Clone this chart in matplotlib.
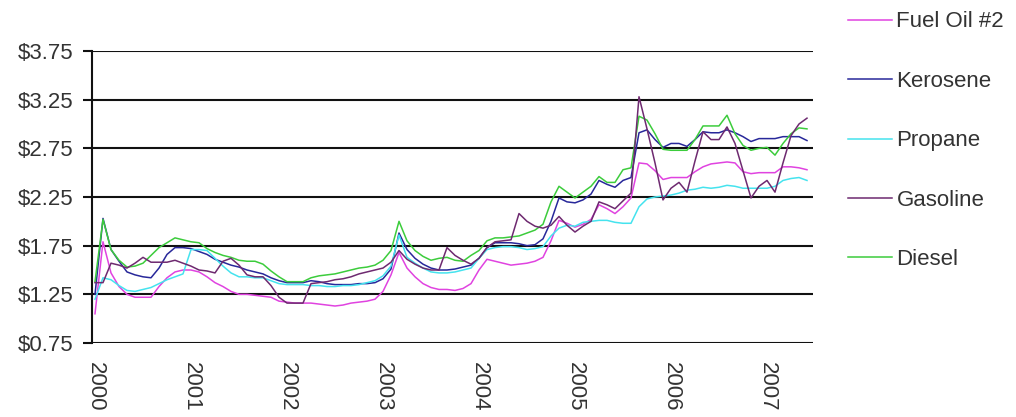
import matplotlib
matplotlib.use('Agg')
import matplotlib.pyplot as plt
import numpy as np

plt.rcParams['font.family'] = ['Liberation Sans', 'DejaVu Sans']

# monthly prices, Jan 2000 - Jun 2007
fuel_oil = [1.05, 1.79, 1.47, 1.33, 1.25, 1.22, 1.22, 1.22, 1.33, 1.42, 1.48, 1.50,
            1.50, 1.48, 1.43, 1.37, 1.33, 1.28, 1.25, 1.25, 1.24, 1.23, 1.22, 1.18,
            1.17, 1.16, 1.16, 1.16, 1.15, 1.14, 1.13, 1.14, 1.16, 1.17, 1.18, 1.20,
            1.28, 1.45, 1.68, 1.52, 1.43, 1.36, 1.32, 1.30, 1.30, 1.29, 1.31, 1.36,
            1.50, 1.61, 1.59, 1.57, 1.55, 1.56, 1.57, 1.59, 1.63, 1.80, 2.01, 1.98,
            1.94, 1.97, 2.02, 2.17, 2.13, 2.08, 2.15, 2.24, 2.60, 2.59, 2.52, 2.43,
            2.45, 2.45, 2.45, 2.51, 2.56, 2.59, 2.60, 2.61, 2.60, 2.51, 2.49, 2.50,
            2.50, 2.50, 2.56, 2.56, 2.55, 2.53]
kerosene = [1.25, 2.03, 1.71, 1.59, 1.48, 1.45, 1.43, 1.42, 1.52, 1.66, 1.73, 1.73,
            1.72, 1.69, 1.66, 1.61, 1.58, 1.55, 1.53, 1.50, 1.48, 1.46, 1.42, 1.39,
            1.37, 1.37, 1.37, 1.39, 1.38, 1.36, 1.35, 1.35, 1.35, 1.36, 1.36, 1.37,
            1.41, 1.51, 1.88, 1.71, 1.62, 1.56, 1.52, 1.50, 1.50, 1.51, 1.53, 1.55,
            1.62, 1.73, 1.78, 1.78, 1.78, 1.77, 1.75, 1.76, 1.82, 2.00, 2.24, 2.20,
            2.19, 2.22, 2.28, 2.42, 2.38, 2.35, 2.42, 2.45, 2.91, 2.94, 2.84, 2.76,
            2.80, 2.80, 2.77, 2.84, 2.92, 2.91, 2.91, 2.94, 2.91, 2.87, 2.82, 2.85,
            2.85, 2.85, 2.87, 2.87, 2.87, 2.83]
propane = [1.20, 1.42, 1.40, 1.34, 1.29, 1.28, 1.30, 1.32, 1.36, 1.40, 1.43, 1.46,
           1.71, 1.71, 1.70, 1.62, 1.54, 1.47, 1.43, 1.43, 1.42, 1.42, 1.39, 1.36,
           1.35, 1.35, 1.35, 1.34, 1.34, 1.33, 1.33, 1.34, 1.34, 1.35, 1.37, 1.39,
           1.44, 1.54, 1.86, 1.63, 1.57, 1.52, 1.48, 1.47, 1.47, 1.48, 1.50, 1.52,
           1.62, 1.71, 1.73, 1.74, 1.74, 1.73, 1.71, 1.72, 1.74, 1.85, 1.93, 1.96,
           1.95, 1.99, 2.00, 2.01, 2.01, 1.99, 1.98, 1.98, 2.15, 2.23, 2.25, 2.26,
           2.27, 2.29, 2.32, 2.33, 2.35, 2.34, 2.35, 2.37, 2.36, 2.34, 2.34, 2.34,
           2.34, 2.36, 2.42, 2.44, 2.45, 2.42]
gasoline = [1.37, 1.37, 1.57, 1.55, 1.52, 1.57, 1.63, 1.58, 1.58, 1.58, 1.60, 1.57,
            1.54, 1.50, 1.49, 1.47, 1.59, 1.62, 1.55, 1.45, 1.43, 1.43, 1.34, 1.22,
            1.16, 1.16, 1.16, 1.36, 1.37, 1.38, 1.40, 1.41, 1.43, 1.46, 1.48, 1.50,
            1.52, 1.58, 1.70, 1.61, 1.56, 1.52, 1.50, 1.50, 1.73, 1.65, 1.60, 1.56,
            1.62, 1.73, 1.79, 1.80, 1.81, 2.08, 2.00, 1.95, 1.93, 1.96, 2.05, 1.96,
            1.89, 1.95, 2.00, 2.20, 2.17, 2.13, 2.21, 2.29, 3.28, 2.95, 2.60, 2.22,
            2.34, 2.40, 2.30, 2.62, 2.92, 2.84, 2.84, 2.97, 2.80, 2.52, 2.24, 2.36,
            2.42, 2.30, 2.60, 2.88, 3.00, 3.06]
diesel = [1.38, 2.02, 1.71, 1.60, 1.53, 1.54, 1.57, 1.65, 1.73, 1.78, 1.83, 1.81,
          1.79, 1.78, 1.72, 1.68, 1.65, 1.63, 1.60, 1.59, 1.59, 1.56, 1.49, 1.43,
          1.38, 1.38, 1.38, 1.42, 1.44, 1.45, 1.46, 1.48, 1.50, 1.52, 1.53, 1.55,
          1.60, 1.70, 2.00, 1.80, 1.70, 1.64, 1.60, 1.62, 1.63, 1.60, 1.59, 1.65,
          1.70, 1.80, 1.83, 1.83, 1.84, 1.85, 1.88, 1.91, 1.97, 2.20, 2.36, 2.30,
          2.24, 2.30, 2.36, 2.46, 2.40, 2.40, 2.53, 2.55, 3.08, 3.04, 2.90, 2.74,
          2.73, 2.73, 2.73, 2.84, 2.98, 2.98, 2.98, 3.09, 2.90, 2.78, 2.73, 2.75,
          2.76, 2.68, 2.80, 2.90, 2.96, 2.95]

series_names = ['Fuel Oil #2', 'Kerosene', 'Propane', 'Gasoline', 'Diesel']
year_labels = ['2000', '2001', '2002', '2003', '2004', '2005', '2006', '2007']
price_ticks = [0.75, 1.25, 1.75, 2.25, 2.75, 3.25, 3.75]

colors = ['#e043e0', '#28289a', '#45e3ee', '#6e2a70', '#3ccc3c']
zorders = [3, 3, 3, 5, 4]

fig = plt.figure(figsize=(10.16, 4.17), dpi=100)
ax = fig.add_axes([92 / 1016, 1 - 343 / 417, (813 - 92) / 1016, (343 - 51) / 417])

x = np.arange(len(fuel_oil))
lines = []
for data, name, c, z in zip([fuel_oil, kerosene, propane, gasoline, diesel],
                            series_names, colors, zorders):
    ln, = ax.plot(x, data, color=c, lw=1.1, label=name, zorder=z)
    lines.append(ln)

ax.set_ylim(0.75, 3.75)
ax.set_xlim(-0.375, 89.75)
ax.set_yticks(price_ticks)
ax.set_yticklabels(['$%.2f' % v for v in price_ticks])
ax.set_xticks(np.arange(len(year_labels)) * 12)
ax.set_xticklabels(year_labels, rotation=-90)

ax.yaxis.grid(True, color='#111111', lw=1.5)
ax.set_axisbelow(True)
ax.spines['right'].set_visible(False)
ax.spines['top'].set_visible(False)
ax.spines['bottom'].set_visible(False)
ax.spines['left'].set_color('#111111')
ax.spines['left'].set_linewidth(1.5)

ax.tick_params(axis='y', length=6.5, width=1.5, color='#111111', pad=7,
               labelsize=16, labelcolor='#333333')
ax.tick_params(axis='x', length=0, pad=14, labelsize=16, labelcolor='#333333')

# legend outside the plot, on the right
fig.legend(lines, series_names, loc='upper left', bbox_to_anchor=(828 / 1016, 1.0204),
           frameon=False, fontsize=16, handlelength=2.0, handletextpad=0.18,
           labelspacing=1.73, labelcolor='#333333')

fig.savefig('out.png', dpi=100)
